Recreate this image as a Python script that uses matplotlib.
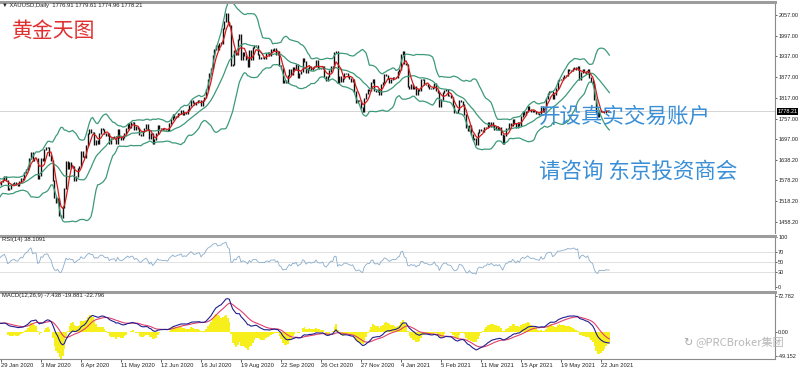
import numpy as np
import pandas as pd
import matplotlib
matplotlib.use("Agg")
import matplotlib.pyplot as plt
import matplotlib.transforms as mtransforms

W, H = 800, 369

# XAUUSD daily closes 11 Dec 2019 .. 28 Jan 2020 (only used to warm up the indicators)
warmup_close = [1475, 1467, 1476, 1476, 1476, 1475, 1479, 1478, 1487, 1499, 1511,
                1510, 1515, 1517, 1529, 1552, 1566, 1574, 1556, 1552, 1562, 1548,
                1545, 1557, 1552, 1557, 1560, 1558, 1558, 1563, 1571, 1582, 1567]

# XAUUSD daily closes 29 Jan 2020 .. 29 Jun 2021, one row per month
close = [
    1576, 1582, 1589,
    1577, 1551, 1556, 1566, 1570, 1572, 1566, 1565, 1575, 1584, 1581, 1601, 1611, 1620,
    1643, 1658, 1635, 1642, 1643, 1585,
    1592, 1641, 1636, 1669, 1673, 1675, 1650, 1635, 1577, 1530, 1515, 1526, 1477, 1471,
    1499, 1554, 1632, 1612, 1629, 1617, 1620, 1577,
    1591, 1613, 1620, 1663, 1647, 1646, 1680, 1713, 1727, 1716, 1718, 1683, 1693, 1686,
    1714, 1730, 1727, 1713, 1707, 1714, 1686,
    1700, 1702, 1705, 1685, 1725, 1702, 1697, 1702, 1715, 1730, 1743, 1733, 1745, 1747,
    1725, 1734, 1728, 1710, 1708, 1720, 1730,
    1739, 1726, 1699, 1713, 1684, 1697, 1715, 1737, 1728, 1729, 1725, 1726, 1727, 1722,
    1743, 1754, 1768, 1761, 1763, 1771, 1772, 1781,
    1769, 1775, 1772, 1784, 1795, 1809, 1803, 1798, 1803, 1809, 1811, 1796, 1810, 1818,
    1842, 1871, 1887, 1902, 1941, 1958, 1970, 1958, 1975,
    1976, 2019, 2038, 2062, 2035, 2028, 1911, 1915, 1954, 1944, 1985, 2000, 1929, 1948,
    1940, 1929, 1907, 1953, 1928, 1964, 1968,
    1970, 1944, 1931, 1933, 1933, 1931, 1946, 1947, 1940, 1957, 1955, 1960, 1944, 1950,
    1912, 1901, 1863, 1868, 1861, 1881, 1898, 1886,
    1906, 1900, 1913, 1877, 1887, 1894, 1930, 1922, 1891, 1902, 1908, 1899, 1905, 1907,
    1924, 1904, 1902, 1902, 1908, 1878, 1868, 1879,
    1895, 1909, 1904, 1948, 1951, 1862, 1878, 1866, 1873, 1888, 1887, 1880, 1872, 1866,
    1871, 1837, 1805, 1809, 1811, 1788, 1777,
    1815, 1831, 1841, 1839, 1863, 1871, 1839, 1837, 1840, 1828, 1855, 1862, 1886, 1882,
    1872, 1861, 1870, 1876, 1876, 1877, 1893, 1898,
    1943, 1950, 1918, 1913, 1849, 1844, 1856, 1845, 1851, 1828, 1840, 1840, 1871, 1870,
    1856, 1855, 1850, 1843, 1844, 1848,
    1860, 1838, 1834, 1793, 1813, 1833, 1838, 1842, 1825, 1824, 1819, 1794, 1775, 1775,
    1784, 1809, 1806, 1797, 1770, 1733,
    1724, 1738, 1712, 1697, 1700, 1683, 1716, 1726, 1722, 1719, 1731, 1731, 1745, 1735,
    1745, 1738, 1726, 1734, 1725, 1732, 1712, 1685, 1708,
    1728, 1729, 1743, 1737, 1756, 1744, 1733, 1747, 1736, 1764, 1777, 1770, 1779, 1793,
    1783, 1777, 1780, 1777, 1773, 1771, 1769,
    1792, 1779, 1785, 1815, 1831, 1836, 1836, 1816, 1826, 1843, 1867, 1869, 1870, 1877,
    1881, 1882, 1898, 1896, 1896, 1903, 1905,
    1900, 1908, 1871, 1891, 1899, 1893, 1888, 1899, 1877, 1866, 1858, 1812, 1774, 1764,
    1782, 1778, 1779, 1776, 1781, 1778, 1778,
]

date_labels = ["29 Jan 2020", "3 Mar 2020", "6 Apr 2020", "11 May 2020", "12 Jun 2020",
               "16 Jul 2020", "19 Aug 2020", "22 Sep 2020", "26 Oct 2020", "27 Nov 2020",
               "4 Jan 2021", "5 Feb 2021", "11 Mar 2021", "15 Apr 2021", "19 May 2021",
               "22 Jun 2021"]
price_ticks = [2057.00, 1997.00, 1937.00, 1877.00, 1817.00, 1757.00, 1697.00,
               1638.20, 1578.20, 1518.20, 1458.20]
last_price = 1778.21
rsi_ticks = [100, 70, 50, 30, 0]
macd_ticks = [72.782, 0.0, -49.152]

# --- indicators (standard MT4 settings)
s = pd.Series(warmup_close + close, dtype=float)
x = np.arange(len(s)) - len(warmup_close)
opens = s.shift(1).fillna(s.iloc[0])
ma_fast = s.rolling(5).mean()
bb_mid = s.rolling(20).mean()
bb_sd = s.rolling(20).std(ddof=0)
bb_up = bb_mid + 2 * bb_sd
bb_lo = bb_mid - 2 * bb_sd

delta = s.diff()
gain = delta.clip(lower=0).ewm(alpha=1 / 14, adjust=False).mean()
loss = (-delta.clip(upper=0)).ewm(alpha=1 / 14, adjust=False).mean()
rsi = 100 - 100 / (1 + gain / loss)

ema12 = s.ewm(span=12, adjust=False).mean()
ema26 = s.ewm(span=26, adjust=False).mean()
macd = ema12 - ema26
signal = macd.ewm(span=9, adjust=False).mean()
osma = (macd - signal) * 2.5

fig = plt.figure(figsize=(8, 3.69), dpi=100)
fig.patch.set_facecolor("white")

small = ["Liberation Sans", "DejaVu Sans"]


def px_axes(x0, y0, x1, y1):
    return fig.add_axes([x0 / W, 1 - y1 / H, (x1 - x0) / W, (y1 - y0) / H])


ax_p = px_axes(0, 2, 775, 233)
ax_r = px_axes(0, 236, 775, 289)
ax_m = px_axes(0, 292, 775, 359)

for ax in (ax_p, ax_r, ax_m):
    ax.set_xlim(-0.6, 464.4)
    ax.set_facecolor("white")
    for side in ("left", "bottom"):
        ax.spines[side].set_visible(False)
    ax.spines["top"].set_color("#9c9c9c")
    ax.spines["top"].set_linewidth(2.2)
    ax.spines["right"].set_color("#8a8a8a")
    ax.spines["right"].set_linewidth(0.8)
    ax.yaxis.tick_right()
    ax.tick_params(axis="y", length=1.5, width=0.5, labelsize=4, pad=0.8,
                   colors="#222222", labelfontfamily=small)
    ax.tick_params(axis="x", bottom=False, labelbottom=False)

# --- price panel
lo_body = np.minimum(opens, s)
hi_body = np.maximum(opens, s)
ax_p.vlines(x, lo_body - 1.5, hi_body + 1.5, colors="#111111", linewidth=1.0)
ax_p.plot(x, bb_up, color="#3d9a78", lw=0.9)
ax_p.plot(x, bb_mid, color="#3d9a78", lw=0.9)
ax_p.plot(x, bb_lo, color="#3d9a78", lw=0.9)
ax_p.plot(x, ma_fast, color="#d41c1c", lw=0.9)
ax_p.axhline(last_price, color="#d4d4d4", lw=0.7, zorder=0)
ax_p.set_ylim(1426.3, 2094.6)
ax_p.set_yticks(price_ticks)
ax_p.set_yticklabels([f"{v:.2f}" for v in price_ticks])
tr = mtransforms.blended_transform_factory(ax_p.transAxes, ax_p.transData)
ax_p.text(1.003, last_price, f"{last_price:.2f}", transform=tr, fontsize=4,
          color="white", va="center", ha="left", family=small,
          bbox=dict(facecolor="black", edgecolor="none", pad=0.5))

# --- RSI panel
for lvl in (70, 50, 30):
    ax_r.axhline(lvl, color="#dcdcdc", lw=0.6, zorder=0)
ax_r.plot(x, rsi, color="#8aaccb", lw=0.6)
ax_r.set_ylim(-3.8, 101.9)
ax_r.set_yticks(rsi_ticks)
ax_r.set_yticklabels([str(v) for v in rsi_ticks])

# --- MACD panel
ax_m.bar(x, osma, width=1.0, color="#f7ef1c", linewidth=0)
ax_m.plot(x, signal, color="#e0406e", lw=0.8)
ax_m.plot(x, macd, color="#20208e", lw=0.8)
ax_m.set_ylim(-55.25, 80.9)
ax_m.set_yticks(macd_ticks)
ax_m.set_yticklabels(["72.782", "0.00", "-49.152"])
ax_m.spines["bottom"].set_visible(True)
ax_m.spines["bottom"].set_color("#8a8a8a")
ax_m.spines["bottom"].set_linewidth(0.8)
ax_m.set_xticks(range(0, 24 * len(date_labels), 24))
ax_m.set_xticklabels(date_labels)
ax_m.tick_params(axis="x", bottom=True, labelbottom=True, length=2, width=0.5,
                 labelsize=4.2, pad=1, colors="#222222", labelfontfamily=small)
for lab in ax_m.get_xticklabels():
    lab.set_ha("left")

# --- header texts
fig.text(2 / W, 1 - 5 / H, "▼ XAUUSD,Daily  1776.91 1779.61 1774.96 1778.21",
         fontsize=4.2, color="#222222", va="center", family=small)
fig.text(2 / W, 1 - 240 / H, "RSI(14) 38.1091", fontsize=4.2, color="#222222",
         va="center", family=small)
fig.text(2 / W, 1 - 296 / H, "MACD(12,26,9) -7.438 -19.881 -22.796", fontsize=4.2,
         color="#222222", va="center", family=small)

cjk = ["Noto Sans CJK SC", "DejaVu Sans"]
fig.text(12 / W, 1 - 31 / H, "黄金天图", fontsize=15, color="#e03030", va="center",
         family=cjk)
fig.text(539 / W, 1 - 117 / H, "开设真实交易账户", fontsize=15.5, color="#3a8fd6",
         va="center", family=cjk)
fig.text(539 / W, 1 - 172 / H, "请咨询 东京投资商会", fontsize=15.5, color="#3a8fd6",
         va="center", family=cjk)

# watermark
fig.text(683 / W, 1 - 343 / H, "↻", fontsize=8, color="#a8a8a8", va="center",
         family=["DejaVu Sans"])
fig.text(695 / W, 1 - 343 / H, "@PRCBroker集团", fontsize=8, color="#b8b8b8",
         va="center", family=cjk)

fig.savefig("out.png", dpi=100)
